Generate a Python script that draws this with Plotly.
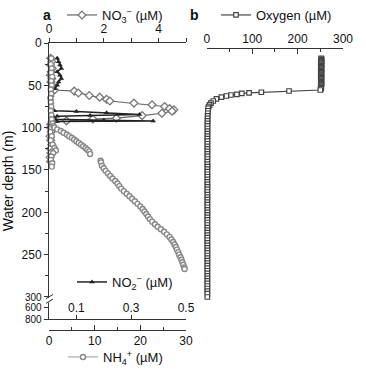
import plotly.graph_objects as go

# ---------------- data ----------------
# Panel a : NO3- (top axis, µM)
no3_depth = [18, 22, 26, 30, 34, 38, 42, 46, 50, 54, 55.5, 56.8, 59, 62, 64, 66.5, 68.5, 71, 73, 75,
             77.5, 79, 80.5, 83, 85.8, 88.8, 89.8, 92, 93, 96, 100, 105, 110, 115, 120, 125, 130, 135, 140]
no3_val = [0.06, 0.1, 0.05, 0.12, 0.08, 0.05, 0.1, 0.07, 0.12, 0.15, 0.2, 0.92, 1.07, 1.47, 1.85, 2.1, 2.22, 3.1, 3.76, 4.22,
           4.4, 4.56, 4.49, 4.12, 3.4, 2.46, 1.6, 0.64, 0.12, 0.06, 0.05, 0.08, 0.04, 0.06, 0.1, 0.05, 0.07, 0.04, 0.06]

# Panel a : NO2- (inner bottom axis, µM)
no2_depth = [18, 22, 26, 30, 34, 38, 42, 46, 50, 54, 58, 62, 66, 70, 74, 78, 80, 81, 82.5, 84.5,
             85.5, 86.5, 88, 90, 91.2, 92.2, 92.8, 95, 100, 105, 110]
no2_val = [0.03, 0.035, 0.04, 0.045, 0.03, 0.04, 0.045, 0.035, 0.03, 0.02, 0.01, 0.01, 0.008, 0.01, 0.008, 0.01, 0.02, 0.1, 0.21, 0.33,
           0.15, 0.03, 0.02, 0.02, 0.2, 0.38, 0.03, 0.01, 0.01, 0.008, 0.01]

# Panel a : NH4+ (outer bottom axis, µM) – main cast (None = gap in profile)
nh4_depth = [18, 25, 30, 35, 40, 45, 50, 55, 60, 65, 70, 75, 80, 85, 90, 95, 98,
             100, 102, 104, 106, 108, 110, 112, 114, 116, 118, 120, 122, 124, 126, 128, 131,
             None,
             139, 141, 145, 148, 151, 154, 157, 160, 163, 166, 169, 172, 175, 178, 181, 184, 187, 190,
             193, 196, 199, 202, 205, 208, 211, 214, 217, 220, 223, 226, 229, 232, 235, 238, 241, 244,
             247, 250, 253, 256, 259, 262, 265, 267]
nh4_val = [0.5, 0.4, 0.6, 0.5, 0.7, 0.5, 0.6, 0.4, 0.5, 0.3, 0.4, 0.5, 0.4, 0.5, 0.6, 0.8, 1.0,
           1.2, 1.8, 2.6, 3.2, 3.9, 4.4, 5.0, 5.5, 6.0, 6.5, 7.0, 7.5, 8.0, 8.4, 8.8, 9.0,
           None,
           11.3, 11.4, 11.6, 12.0, 12.4, 12.9, 13.4, 13.9, 14.5, 15.0, 15.4, 15.8, 16.4, 17.0, 17.6, 18.2, 18.8, 19.4,
           20.0, 20.5, 20.9, 21.3, 21.7, 22.1, 22.6, 23.2, 23.8, 24.5, 25.2, 25.8, 26.4, 26.8, 27.2, 27.5, 27.8, 28.0,
           28.3, 28.5, 28.8, 29.0, 29.2, 29.4, 29.6, 29.7]
# NH4+ – near-zero values of a second cast
nh4b_depth = [100, 105, 110, 115, 120, 124, 127, 130, 134, 138, 142, 146]
nh4b_val = [0.5, 0.3, 0.6, 0.4, 0.8, 1.2, 1.5, 0.9, 0.5, 0.4, 0.7, 0.6]

# Panel b : oxygen (µM)
o2_depth = [18, 19, 20, 21, 22, 23, 24, 25, 26, 27, 28, 29, 30, 31, 32, 33, 34, 35, 36, 37,
            38, 39, 40, 41, 42, 43, 44, 45, 46, 47, 48, 49, 50, 51, 52, 53, 54, 55.5,
            56.7, 58.2, 59, 59.6, 60.6, 61.4, 62.6, 64, 66, 68.5, 71, 73, 75,
            77, 80, 83, 86, 89, 92, 95, 98, 101, 104, 107, 110, 113, 116, 119, 122, 125, 128,
            131, 134, 137, 140, 143, 146, 149, 152, 155, 158, 161, 164, 167, 170, 173, 176, 179, 182,
            185, 188, 191, 194, 197, 200, 203, 206, 209, 212, 215, 218, 221, 224, 227, 230, 233, 236,
            239, 242, 245, 248, 251, 254, 257, 260, 263, 266, 269, 272, 275, 278, 281, 284, 287, 290,
            293, 296, 300]
o2_val = [252, 253, 252, 252, 253, 251, 252, 252, 253, 252, 251, 252, 252, 253, 252, 252, 251, 252, 253, 252,
          252, 251, 252, 252, 253, 252, 251, 252, 252, 252, 253, 252, 251, 252, 252, 251, 252, 250,
          181, 120, 93, 77, 66, 53, 43, 32, 21, 14, 9, 6, 4,
          3, 2.5, 2.0, 1.8, 1.5, 1.6, 1.4, 1.2, 1.5, 1.3, 1.2, 1.4, 1.1, 1.3, 1.2, 1.0, 1.4, 1.2,
          1.1, 1.3, 1.2, 1.0, 1.2, 1.4, 1.1, 1.0, 1.3, 1.2, 1.1, 1.0, 1.2, 1.3, 1.1, 1.0, 1.2, 1.1,
          1.3, 1.0, 1.2, 1.1, 1.0, 1.3, 1.2, 1.0, 1.1, 1.2, 1.0, 1.1, 1.3, 1.0, 1.2, 1.1, 1.0, 1.2,
          1.1, 1.0, 1.2, 1.1, 1.3, 1.0, 1.1, 1.2, 1.0, 1.1, 1.2, 1.0, 1.1, 1.3, 1.0, 1.2, 1.1, 1.0,
          1.2, 1.1, 1.0]

# axis ticks
depth_ticks = [0, 50, 100, 150, 200, 250, 300, 312, 326]
depth_labels = ['0', '50', '100', '150', '200', '250',
                '<span style="font-size:10px">300</span>',
                '<span style="font-size:10px">600</span>',
                '<span style="font-size:10px">800</span>']
depth_minor = [25, 75, 125, 175, 225, 275]
no3_ticks = [0, 2, 4]
no3_minor = [1, 3, 5]
no2_ticks = [0.1, 0.3, 0.5]
nh4_ticks = [0, 10, 20, 30]
nh4_minor = [5, 15, 25]
o2_ticks = [0, 100, 200, 300]
o2_minor = [50, 150, 250]

FONT = 'Liberation Sans, Arial, sans-serif'
AX = '#333'

fig = go.Figure()
fig.add_trace(go.Scatter(
    x=nh4b_val, y=nh4b_depth, xaxis='x3', yaxis='y', mode='lines+markers', showlegend=False,
    line=dict(color='#999', width=1),
    marker=dict(symbol='circle', size=5, color='white', line=dict(color='#888', width=1.4)),
    cliponaxis=False))
fig.add_trace(go.Scatter(
    x=nh4_val, y=nh4_depth, xaxis='x3', yaxis='y', mode='lines+markers', connectgaps=False,
    name='NH<sub>4</sub><sup>+</sup> (µM)', legend='legend3',
    line=dict(color='#999', width=1),
    marker=dict(symbol='circle', size=5, color='white', line=dict(color='#888', width=1.4)),
    cliponaxis=False))
fig.add_trace(go.Scatter(
    x=no3_val, y=no3_depth, xaxis='x', yaxis='y', mode='lines+markers',
    name='NO<sub>3</sub><sup>−</sup> (µM)', legend='legend',
    line=dict(color='#666', width=1.2),
    marker=dict(symbol='diamond', size=6, color='white', line=dict(color='#777', width=1.3)),
    cliponaxis=False))
fig.add_trace(go.Scatter(
    x=no2_val, y=no2_depth, xaxis='x2', yaxis='y', mode='lines+markers',
    name='NO<sub>2</sub><sup>−</sup> (µM)', legend='legend2',
    line=dict(color='#222', width=1.5),
    marker=dict(symbol='triangle-up', size=5, color='#222'),
    cliponaxis=False))
fig.add_trace(go.Scatter(
    x=o2_val, y=o2_depth, xaxis='x4', yaxis='y', mode='lines+markers',
    name='Oxygen (µM)', legend='legend4',
    line=dict(color='#444', width=1.2),
    marker=dict(symbol='square', size=4.5, color='white', line=dict(color='#444', width=1.2)),
    cliponaxis=False))

tickfont = dict(family=FONT, size=12, color='#111')
common = dict(showgrid=False, zeroline=False, showline=True, linecolor=AX, linewidth=1,
              tickcolor=AX, tickwidth=1, tickfont=tickfont, tickmode='array')

dom_a = [0, 0.466]
dom_b = [0.537, 1]

fig.update_layout(
    width=366, height=372,
    margin=dict(l=49, r=23, t=43, b=42, autoexpand=False),
    paper_bgcolor='white', plot_bgcolor='white',
    font=dict(family=FONT, size=12, color='#111'),
    xaxis=dict(**common, domain=dom_a, range=[0, 5], side='top', anchor='y',
               tickvals=no3_ticks, ticks='outside', ticklen=4,
               minor=dict(tickmode='array', tickvals=no3_minor, ticks='outside', ticklen=4,
                          tickcolor=AX)),
    xaxis2=dict(**common, domain=dom_a, range=[0, 0.5], side='bottom', anchor='y', overlaying='x',
                tickvals=no2_ticks, ticks='inside', ticklen=4, ticklabelposition='inside',
                ticklabeloverflow='allow'),
    xaxis3=dict(**common, domain=dom_a, range=[0, 30], side='bottom', anchor='free', position=0,
                overlaying='x', tickvals=nh4_ticks, ticks='inside', ticklen=5,
                minor=dict(tickmode='array', tickvals=nh4_minor, ticks='inside', ticklen=3,
                           tickcolor=AX)),
    xaxis4=dict(**common, domain=dom_b, range=[0, 300], side='top', anchor='free',
                position=(330 - 48) / 287, tickvals=o2_ticks, ticks='inside', ticklen=5,
                minor=dict(tickmode='array', tickvals=o2_minor, ticks='inside', ticklen=3,
                           tickcolor=AX)),
    yaxis=dict(**common, domain=[(330 - 319) / 287, 1], range=[326, 0], anchor='x',
               tickvals=depth_ticks, ticktext=depth_labels, ticks='outside', ticklen=4,
               minor=dict(tickmode='array', tickvals=depth_minor, ticks='outside', ticklen=3,
                          tickcolor=AX),
               title=dict(text='Water depth (m)', font=dict(family=FONT, size=14, color='#111'),
                          standoff=5)),
)

leg_common = dict(bgcolor='rgba(0,0,0,0)', borderwidth=0, font=dict(family=FONT, size=13, color='#111'),
                  xanchor='left', yanchor='middle', tracegroupgap=0, itemclick=False)
fig.update_layout(
    legend=dict(**leg_common, x=(62 - 49) / 294, y=(330 - 15) / 287),
    legend2=dict(**leg_common, x=(72 - 49) / 294, y=(330 - 282) / 287),
    legend3=dict(**leg_common, x=(63 - 49) / 294, y=(330 - 357) / 287),
    legend4=dict(**leg_common, x=(216 - 49) / 294, y=(330 - 15) / 287),
)

# panel letters
fig.add_annotation(text='<b>a</b>', xref='paper', yref='paper', x=(47 - 49) / 294, y=(330 - 15) / 287,
                   showarrow=False, font=dict(family=FONT, size=14, color='#111'), xanchor='center',
                   yanchor='middle')
fig.add_annotation(text='<b>b</b>', xref='paper', yref='paper', x=(194 - 49) / 294, y=(330 - 15) / 287,
                   showarrow=False, font=dict(family=FONT, size=14, color='#111'), xanchor='center',
                   yanchor='middle')

# axis break on the depth axis
fig.add_shape(type='rect', xref='paper', yref='y', x0=-4 / 294, x1=4 / 294, y0=301, y1=306.5,
              fillcolor='white', line=dict(width=0), layer='above')
fig.add_shape(type='line', xref='paper', yref='y', x0=-3 / 294, x1=4 / 294, y0=302, y1=297,
              line=dict(color=AX, width=1), layer='above')
fig.add_shape(type='line', xref='paper', yref='y', x0=-3 / 294, x1=4 / 294, y0=307.5, y1=302.5,
              line=dict(color=AX, width=1), layer='above')

fig.write_html("out.html", config={'displayModeBar': False},
               post_script="document.body.style.margin='0';")
